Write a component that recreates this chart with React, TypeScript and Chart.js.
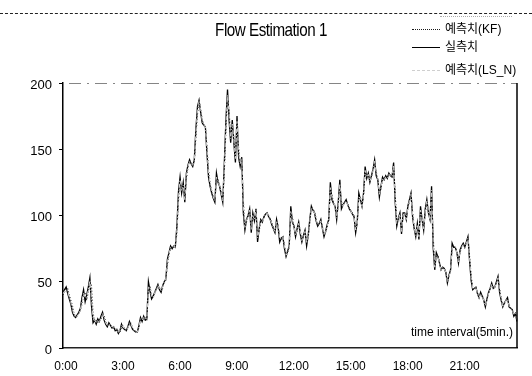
import React, { useEffect, useRef } from "react";
import { Chart, registerables } from "chart.js";

Chart.register(...registerables);

const FONT = "'Liberation Sans', 'Noto Sans CJK KR', Arial, sans-serif";

const titleText = "Flow Estimation 1";
const seriesNames = ["예측치(KF)", "실측치", "예측치(LS_N)"];
const axisNote = "time interval(5min.)";
const xTickLabels = ["0:00", "3:00", "6:00", "9:00", "12:00", "15:00", "18:00", "21:00"];
const yMin = 0;
const yMax = 200;
const yStep = 50;

// 실측치 (observed), one value per 5 minutes
const actual = [
  42, 44, 46, 41, 37, 33, 27, 24, 23, 25, 27, 30,
  38, 44, 35, 40, 46, 53, 32, 19, 21, 18, 22, 20,
  24, 27, 21, 18, 16, 19, 17, 15, 16, 13, 14, 11,
  13, 18, 15, 14, 13, 16, 20, 17, 14, 13, 12, 12,
  17, 23, 20, 24, 21, 22, 50, 43, 37, 39, 42, 45,
  48, 44, 42, 47, 50, 52, 67, 72, 77, 75, 77, 76,
  92, 118, 129, 117, 125, 110, 132, 138, 142, 139, 137, 142,
  165, 182, 187, 178, 170, 168, 167, 147, 129, 122, 117, 113,
  110, 132, 125, 122, 116, 110, 140, 172, 195, 172, 155, 172,
  155, 140, 175, 144, 137, 144, 102, 89, 97, 100, 105, 87,
  102, 96, 105, 80, 90, 97, 95, 99, 101, 102, 99, 97,
  93, 90, 87, 97, 91, 80, 83, 84, 75, 69, 73, 77,
  107, 95, 92, 84, 90, 95, 86, 80, 85, 89, 77, 85,
  97, 107, 104, 102, 96, 92, 94, 97, 90, 84, 88, 93,
  97, 125, 112, 109, 107, 97, 110, 127, 105, 108, 110, 112,
  108, 105, 103, 101, 99, 87, 95, 117, 112, 107, 117, 137,
  128, 132, 125, 130, 135, 142, 130, 127, 114, 122, 129, 127,
  130, 128, 132, 130, 129, 140, 110, 92, 98, 102, 86, 102,
  102, 97, 107, 112, 117, 99, 90, 84, 94, 82, 107, 97,
  89, 105, 112, 102, 97, 122, 76, 59, 72, 69, 64, 59,
  61, 60, 57, 49, 55, 59, 79, 76, 76, 72, 64, 74,
  77, 79, 76, 80, 84, 66, 51, 44, 45, 46, 41, 38,
  42, 39, 36, 31, 37, 42, 45, 49, 45, 46, 50, 54,
  42, 36, 31, 34, 36, 38, 31, 30, 29, 24, 26, 20,
];

// 예측치(KF)
const kf = [
  40, 42, 45, 45, 40, 36, 32, 26, 24, 24, 26, 28,
  33, 40, 42, 36, 42, 49, 48, 27, 20, 21, 19, 21,
  21, 26, 25, 20, 17, 18, 18, 16, 15, 15, 13, 13,
  12, 15, 17, 14, 14, 15, 18, 19, 15, 14, 12, 13,
  15, 21, 22, 22, 23, 21, 42, 47, 40, 38, 41, 44,
  47, 46, 43, 45, 49, 51, 62, 70, 75, 76, 76, 77,
  86, 110, 126, 121, 122, 114, 127, 136, 141, 140, 138, 140,
  158, 176, 186, 181, 173, 169, 167, 153, 135, 125, 119, 115,
  111, 126, 128, 123, 118, 112, 132, 164, 188, 180, 160, 167,
  160, 145, 168, 152, 140, 142, 112, 93, 95, 99, 104, 91,
  98, 99, 103, 86, 88, 95, 96, 98, 101, 102, 100, 98,
  95, 91, 88, 95, 93, 83, 82, 84, 78, 71, 72, 76,
  99, 99, 93, 86, 88, 94, 89, 82, 84, 88, 80, 83,
  94, 105, 105, 103, 98, 93, 94, 96, 92, 86, 87, 91,
  96, 118, 116, 110, 108, 100, 107, 122, 111, 107, 110, 111,
  109, 106, 104, 102, 100, 90, 93, 112, 114, 108, 115, 132,
  130, 131, 127, 129, 134, 140, 133, 128, 117, 120, 127, 128,
  129, 129, 131, 131, 129, 137, 117, 96, 97, 101, 90, 99,
  102, 98, 105, 110, 116, 103, 92, 86, 92, 85, 102, 99,
  91, 101, 110, 104, 98, 116, 86, 63, 69, 70, 65, 60,
  61, 60, 58, 51, 54, 58, 74, 77, 76, 73, 66, 72,
  76, 78, 77, 79, 83, 70, 55, 46, 45, 46, 42, 39,
  41, 40, 37, 33, 36, 41, 44, 48, 46, 46, 49, 53,
  45, 38, 32, 33, 36, 37, 33, 30, 29, 25, 26, 22,
];

// 예측치(LS_N)
const lsn = [
  41, 43, 44, 43, 38, 34, 29, 25, 23, 24, 26, 29,
  35, 42, 38, 38, 44, 51, 38, 22, 21, 19, 21, 20,
  22, 26, 23, 19, 17, 18, 17, 16, 16, 14, 14, 12,
  13, 17, 16, 14, 13, 15, 19, 18, 15, 13, 12, 12,
  16, 22, 21, 23, 22, 22, 46, 45, 39, 38, 42, 45,
  47, 45, 43, 46, 50, 52, 65, 71, 76, 76, 77, 76,
  89, 114, 127, 119, 123, 112, 130, 137, 141, 139, 138, 141,
  162, 179, 186, 180, 172, 168, 167, 150, 132, 124, 118, 114,
  111, 129, 126, 122, 117, 111, 136, 168, 191, 176, 158, 169,
  157, 143, 171, 148, 139, 143, 107, 91, 96, 100, 104, 89,
  100, 97, 104, 83, 89, 96, 95, 98, 101, 102, 99, 97,
  94, 90, 88, 96, 92, 82, 83, 84, 77, 70, 72, 76,
  103, 97, 92, 85, 89, 94, 88, 81, 84, 88, 79, 84,
  95, 106, 104, 102, 97, 93, 94, 96, 91, 85, 88, 92,
  96, 121, 114, 110, 107, 98, 108, 124, 108, 107, 110, 111,
  108, 105, 103, 101, 99, 89, 94, 114, 113, 107, 116, 134,
  129, 131, 126, 129, 134, 141, 132, 128, 116, 121, 128, 127,
  129, 128, 131, 130, 129, 138, 114, 94, 97, 101, 88, 100,
  102, 97, 106, 111, 116, 101, 91, 85, 93, 84, 104, 98,
  90, 103, 111, 103, 97, 119, 81, 61, 70, 69, 64, 59,
  61, 60, 57, 50, 54, 58, 76, 76, 76, 72, 65, 73,
  76, 78, 76, 79, 83, 68, 53, 45, 45, 46, 41, 38,
  41, 39, 36, 32, 36, 41, 44, 48, 45, 46, 49, 53,
  44, 37, 31, 33, 36, 37, 32, 30, 29, 25, 26, 21,
];

const categories = actual.map(
  (_, i) => `${Math.floor(i / 12)}:${String((i % 12) * 5).padStart(2, "0")}`
);

const KF_COLOR = "#1a1a1a";
const ACT_COLOR = "#000000";
const LSN_COLOR = "#cfcfcf";

const framePlugin = {
  id: "frame",
  afterDraw(chart: any) {
    const { ctx, chartArea } = chart;
    ctx.save();
    // top border of the plot (sparse dash-dot, as in the scan)
    ctx.strokeStyle = "#666";
    ctx.lineWidth = 0.8;
    ctx.setLineDash([12, 6, 2, 6]);
    ctx.beginPath();
    ctx.moveTo(chartArea.left + 6, chartArea.top + 0.5);
    ctx.lineTo(chartArea.right, chartArea.top + 0.5);
    ctx.stroke();
    // right border (solid)
    ctx.setLineDash([]);
    ctx.strokeStyle = "#000";
    ctx.lineWidth = 1.5;
    ctx.beginPath();
    ctx.moveTo(chartArea.right, chartArea.top);
    ctx.lineTo(chartArea.right, chartArea.bottom);
    ctx.stroke();
    ctx.restore();
  },
};

export default function App() {
  const canvasRef = useRef<HTMLCanvasElement | null>(null);

  useEffect(() => {
    if (!canvasRef.current) return;
    const chart = new Chart(canvasRef.current, {
      type: "line",
      data: {
        labels: categories,
        datasets: [
          {
            label: seriesNames[2],
            data: lsn,
            borderColor: LSN_COLOR,
            borderWidth: 1,
            borderDash: [4, 2, 1, 2],
            pointRadius: 0,
            tension: 0,
          },
          {
            label: seriesNames[0],
            data: kf,
            borderColor: KF_COLOR,
            borderWidth: 1,
            borderDash: [1, 2],
            pointRadius: 0,
            tension: 0,
          },
          {
            label: seriesNames[1],
            data: actual,
            borderColor: ACT_COLOR,
            borderWidth: 1.3,
            pointRadius: 0,
            tension: 0,
          },
        ],
      },
      options: {
        responsive: false,
        animation: false,
        events: [],
        layout: { padding: { left: 0, right: 15, top: 83, bottom: 0 } },
        plugins: {
          legend: { display: false },
          tooltip: { enabled: false },
          title: { display: false },
        },
        scales: {
          x: {
            type: "category",
            offset: false,
            grid: { display: true, drawOnChartArea: false, drawTicks: false },
            border: { display: true, color: "#222", width: 1.5, dash: [3, 1] },
            ticks: {
              autoSkip: false,
              maxRotation: 0,
              minRotation: 0,
              padding: 11,
              labelOffset: 3,
              color: "#000",
              font: { family: FONT, size: 12 },
              callback: (_v: any, i: number) =>
                i % 36 === 0 ? xTickLabels[i / 36] : null,
            },
            afterFit: (s: any) => {
              s.height = 28;
            },
          },
          y: {
            min: yMin,
            max: yMax,
            ticks: {
              stepSize: yStep,
              padding: 7,
              labelOffset: 2,
              color: "#000",
              font: { family: FONT, size: 13 },
            },
            grid: {
              display: true,
              drawOnChartArea: false,
              drawTicks: true,
              tickLength: 4,
              color: "#000",
            },
            border: { display: true, color: "#000", width: 1.5 },
            afterFit: (s: any) => {
              s.width = 63;
            },
          },
        },
      },
      plugins: [framePlugin],
    });
    return () => chart.destroy();
  }, []);

  const legendText: React.CSSProperties = {
    position: "absolute",
    left: 445,
    fontFamily: FONT,
    fontSize: 12,
    color: "#000",
    lineHeight: "14px",
    whiteSpace: "nowrap",
  };
  const sample = (top: number, style: string, color: string): React.CSSProperties => ({
    position: "absolute",
    left: 412,
    width: 28,
    top,
    height: 0,
    borderTop: `1px ${style} ${color}`,
  });

  return (
    <div style={{ position: "absolute", left: 0, top: 0, width: 532, height: 376, background: "#fff" }}>
      <canvas ref={canvasRef} width={532} height={376} style={{ display: "block" }} />
      <div style={{ position: "absolute", left: 0, top: 13, width: 532, height: 0, borderTop: "1px dashed #222" }} />
      <div style={{ position: "absolute", left: 440, top: 16, width: 72, height: 0, borderTop: "1px dotted #aaa" }} />
      <div
        style={{
          position: "absolute",
          left: 171,
          top: 18,
          width: 200,
          textAlign: "center",
          fontFamily: FONT,
          fontSize: 19,
          lineHeight: "24px",
          letterSpacing: "-0.6px",
          color: "#000",
          whiteSpace: "nowrap",
          transform: "scaleX(0.8)",
        }}
      >
        {titleText}
      </div>
      <div style={sample(29, "dotted", KF_COLOR)} />
      <div style={{ ...legendText, top: 22 }}>{seriesNames[0]}</div>
      <div style={sample(47, "solid", ACT_COLOR)} />
      <div style={{ ...legendText, top: 40 }}>{seriesNames[1]}</div>
      <div style={sample(70, "dashed", LSN_COLOR)} />
      <div style={{ ...legendText, top: 63 }}>{seriesNames[2]}</div>
      <div
        style={{
          position: "absolute",
          right: 532 - 513,
          top: 325,
          fontFamily: FONT,
          fontSize: 12,
          color: "#000",
          lineHeight: "14px",
          whiteSpace: "nowrap",
        }}
      >
        {axisNote}
      </div>
    </div>
  );
}
